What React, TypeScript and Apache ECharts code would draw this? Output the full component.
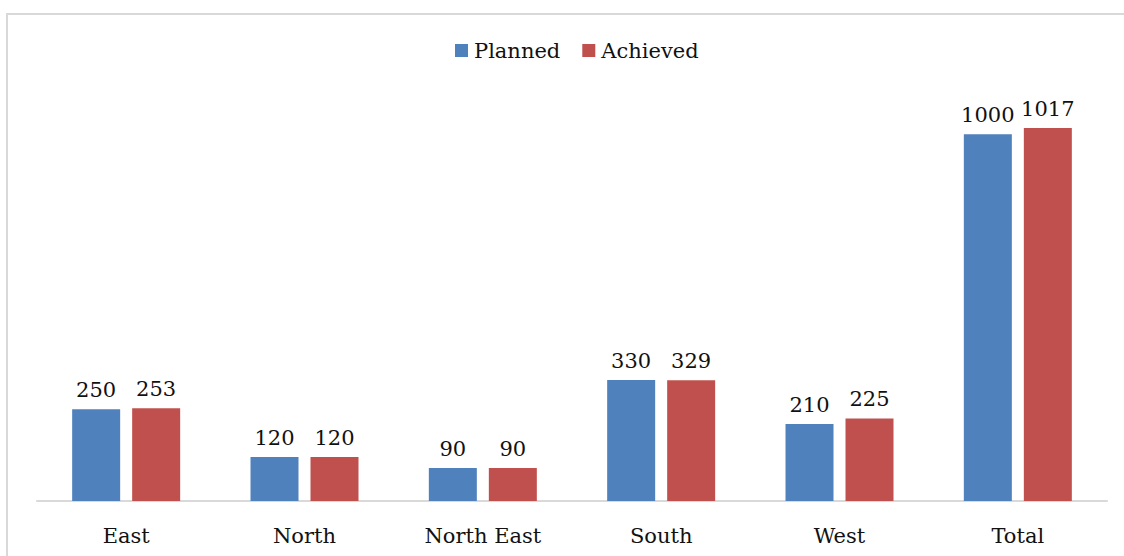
import React, { useEffect, useRef } from "react";
import * as echarts from "echarts";

const categories = ["East", "North", "North East", "South", "West", "Total"];
const planned = [250, 120, 90, 330, 210, 1000];
const achieved = [253, 120, 90, 329, 225, 1017];
const seriesNames = ["Planned", "Achieved"];

const FONT = "'DejaVu Serif', serif";

export default function App() {
  const ref = useRef<HTMLDivElement>(null);
  useEffect(() => {
    if (!ref.current) return;
    const chart = echarts.init(ref.current, undefined, { renderer: "svg" });
    const label = {
      show: true,
      position: "top",
      distance: 9,
      color: "#111",
      fontFamily: FONT,
      fontSize: 21,
    };
    chart.setOption({
      animation: false,
      backgroundColor: "#fff",
      textStyle: { fontFamily: FONT },
      graphic: [
        {
          type: "rect",
          shape: { x: 7, y: 14, width: 1140, height: 580 },
          style: { fill: "none", stroke: "#d9d9d9", lineWidth: 2 },
          silent: true,
        },
      ],
      legend: {
        top: 35,
        left: 450,
        itemWidth: 13,
        itemHeight: 13,
        itemGap: 22,
        icon: "rect",
        textStyle: { fontFamily: FONT, fontSize: 21, color: "#111", padding: [0, 0, 0, 1] },
        data: seriesNames,
      },
      grid: { left: 37, right: 17, top: 61, bottom: 55, containLabel: false },
      xAxis: {
        type: "category",
        data: categories,
        axisLine: { show: true, lineStyle: { color: "#d9d9d9", width: 2 } },
        axisTick: { show: false },
        axisLabel: { color: "#111", fontFamily: FONT, fontSize: 21, margin: 24, interval: 0 },
      },
      yAxis: {
        type: "value",
        min: 0,
        max: 1200,
        show: false,
        splitLine: { show: false },
      },
      series: [
        {
          name: seriesNames[0],
          type: "bar",
          data: planned,
          barWidth: 48,
          barGap: "25%",
          itemStyle: { color: "#4F81BD" },
          label,
        },
        {
          name: seriesNames[1],
          type: "bar",
          data: achieved,
          barWidth: 48,
          barGap: "25%",
          itemStyle: { color: "#C0504D" },
          label,
        },
      ],
    });
    return () => chart.dispose();
  }, []);
  return (
    <div
      ref={ref}
      style={{ position: "fixed", left: 0, top: 0, width: 1124, height: 556 }}
    />
  );
}
